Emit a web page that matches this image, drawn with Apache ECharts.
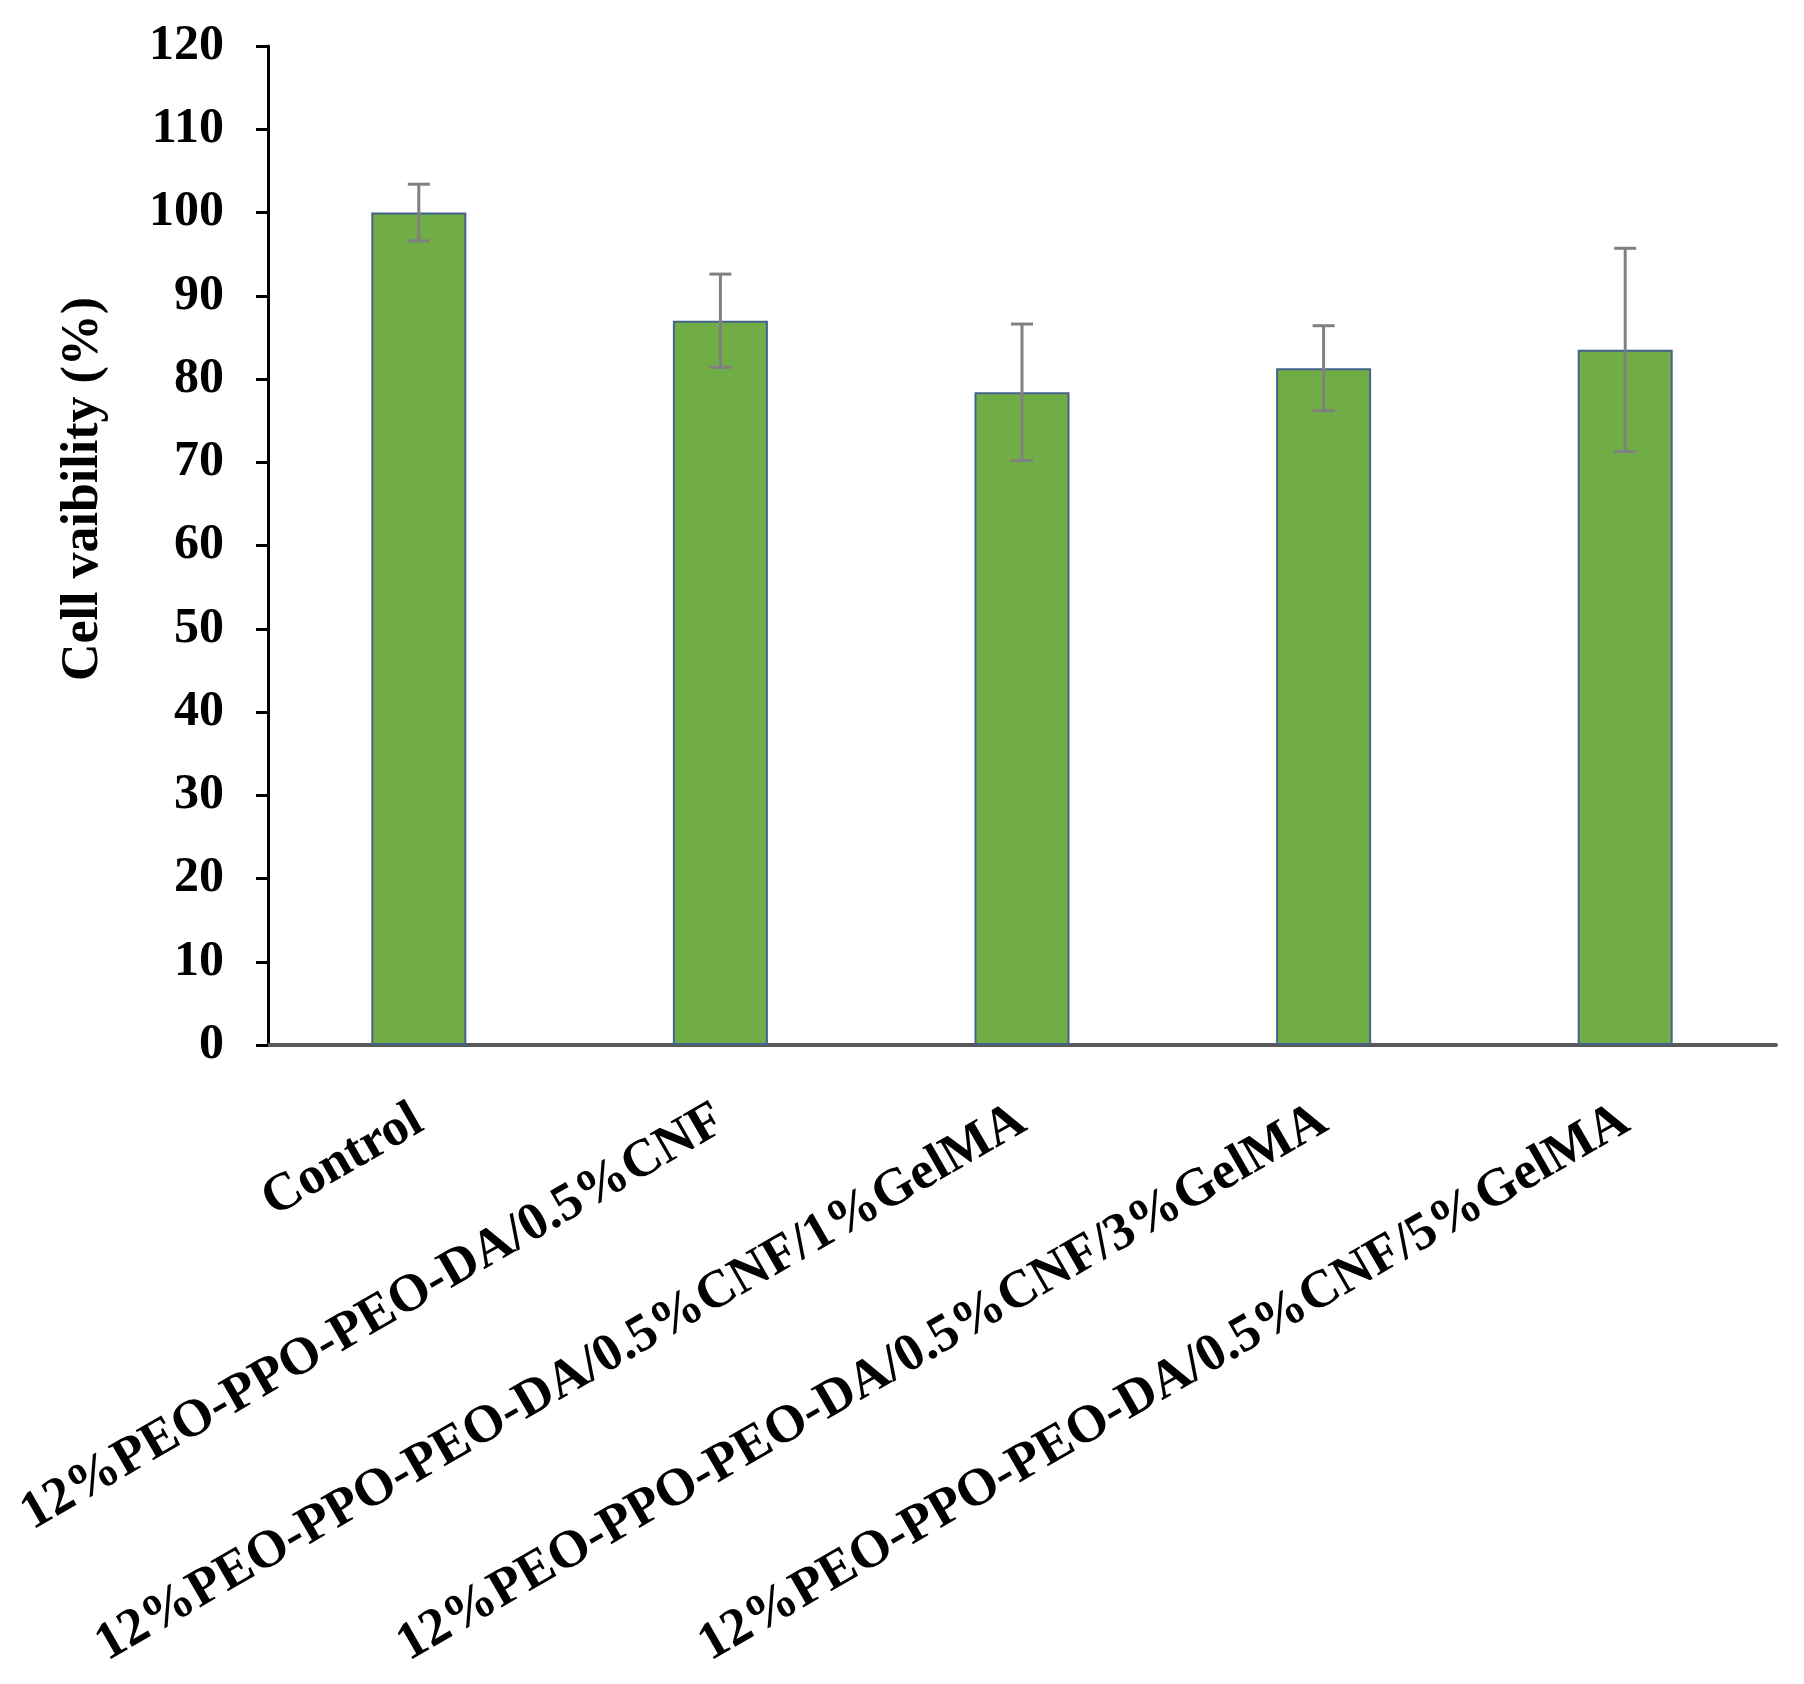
<!DOCTYPE html>
<html>
<head>
<meta charset="utf-8">
<script src="https://cdn.jsdelivr.net/npm/echarts@6/dist/echarts.min.js"></script>
<style>
  html, body { margin: 0; padding: 0; background: #fff; }
  #chart { width: 1804px; height: 1684px; }
</style>
</head>
<body>
<div id="chart"></div>
<script>
// data
var categories = [
  'Control',
  '12%PEO-PPO-PEO-DA/0.5%CNF',
  '12%PEO-PPO-PEO-DA/0.5%CNF/1%GelMA',
  '12%PEO-PPO-PEO-DA/0.5%CNF/3%GelMA',
  '12%PEO-PPO-PEO-DA/0.5%CNF/5%GelMA'
]
var viability = [100, 87, 78.4, 81.3, 83.5]
var errors = [3.4, 5.6, 8.2, 5.1, 12.2]

var font = 'Liberation Serif'

var errData = viability.map(function (v, i) {
  return [i, v - errors[i], v + errors[i]]
})

var option = {
  animation: false,
  backgroundColor: '#fff',
  grid: {
    left: 268,
    right: 28,
    top: 46,
    bottom: 639,
    containLabel: false
  },
  // y axis title, placed a bit above the axis middle like the original
  graphic: [
    {
      type: 'text',
      x: 84,
      y: 489,
      rotation: Math.PI / 2,
      style: {
        text: 'Cell vaibility (%)',
        fill: '#000',
        font: 'bold 52px "Liberation Serif"',
        align: 'center',
        verticalAlign: 'middle'
      }
    }
  ],
  xAxis: {
    type: 'category',
    data: categories,
    axisLine: { lineStyle: { color: '#595959', width: 4 } },
    axisTick: { show: false },
    axisLabel: {
      interval: 0,
      rotate: 30,
      margin: 72,
      color: '#000',
      fontFamily: font,
      fontWeight: 'bold',
      fontSize: 53
    }
  },
  yAxis: {
    type: 'value',
    min: 0,
    max: 120,
    interval: 10,
    splitLine: { show: false },
    axisLine: { show: true, lineStyle: { color: '#000', width: 3 } },
    axisTick: { show: true, length: 12, lineStyle: { color: '#000', width: 3 } },
    axisLabel: {
      margin: 44,
      color: '#000',
      fontFamily: font,
      fontWeight: 'bold',
      fontSize: 50
    }
  },
  series: [
    {
      type: 'bar',
      data: viability,
      barWidth: '31.5%',
      itemStyle: {
        color: '#70AD47',
        borderColor: '#44628C',
        borderWidth: 2
      },
      z: 2
    },
    {
      type: 'custom',
      data: errData,
      z: 3,
      renderItem: function (params, api) {
        var x = api.value(0)
        var lo = api.coord([x, api.value(1)])
        var hi = api.coord([x, api.value(2)])
        var cap = 11
        var style = { stroke: '#808080', lineWidth: 3 }
        return {
          type: 'group',
          children: [
            { type: 'line', shape: { x1: hi[0], y1: hi[1], x2: lo[0], y2: lo[1] }, style: style },
            { type: 'line', shape: { x1: hi[0] - cap, y1: hi[1], x2: hi[0] + cap, y2: hi[1] }, style: style },
            { type: 'line', shape: { x1: lo[0] - cap, y1: lo[1], x2: lo[0] + cap, y2: lo[1] }, style: style }
          ]
        }
      }
    }
  ]
}

var chart = echarts.init(document.getElementById('chart'))
chart.setOption(option)
</script>
</body>
</html>
